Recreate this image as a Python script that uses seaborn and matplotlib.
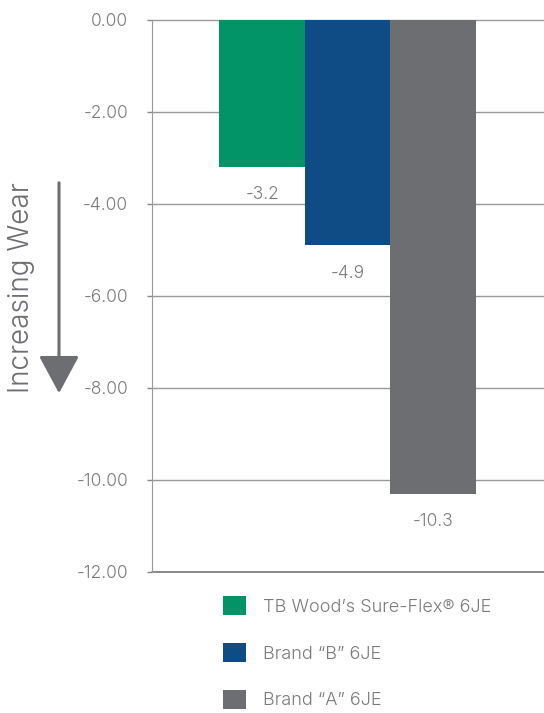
import matplotlib
matplotlib.use("Agg")
import matplotlib.pyplot as plt
import seaborn as sns
import pandas as pd
from matplotlib.patches import Patch, FancyArrowPatch

# donnees du graphique
brands = ["TB Wood\u2019s Sure-Flex\u00ae 6JE", "Brand \u201cB\u201d 6JE", "Brand \u201cA\u201d 6JE"]
wear = [-3.2, -4.9, -10.3]
colors = ["#029467", "#0f4c86", "#6d6e71"]
y_ticks = [0, -2, -4, -6, -8, -10, -12]

df = pd.DataFrame({"brand": brands, "wear": wear})

sns.set_style("white")
plt.rcParams['font.family'] = ['Inter', 'DejaVu Sans']
plt.rcParams['font.weight'] = 300
txt_color = "#7a7a7a"

fig = plt.figure(figsize=(5.44, 7.13), dpi=100)
ax = fig.add_axes([152 / 544, 1 - 572 / 713, 1 - 152 / 544, (572 - 20) / 713])

sns.barplot(data=df, x="brand", y="wear", hue="brand", palette=colors,
            width=1.0, legend=False, saturation=1, linewidth=0, edgecolor="none",
            zorder=3, ax=ax)

ax.set_xlim(-1.29, 3.30)
ax.set_ylim(-12, 0)
ax.set_yticks(y_ticks)
ax.set_yticklabels([f"{t:.2f}" for t in y_ticks], fontsize=12.5, color=txt_color)
ax.set_xticks([])
ax.set_xlabel("")
ax.set_ylabel("")
ax.tick_params(axis='y', left=True, length=3.6, width=1, color="#888888", pad=13.5)
for s in ["top", "right", "bottom"]:
    ax.spines[s].set_visible(False)
ax.spines["left"].set_color("#999999")

# lignes horizontales (grille + axe du bas)
for t in y_ticks:
    if t == -12:
        ax.axhline(t, color="#777777", linewidth=1.2, clip_on=False, zorder=2)
    else:
        ax.axhline(t, color="#999999", linewidth=1, clip_on=False, zorder=1)

# valeurs sous les barres
for i, v in enumerate(wear):
    ax.annotate(f"{v:.1f}", (i, v), xytext=(0, -20), textcoords="offset points",
                ha="center", va="center", fontsize=12.5, color=txt_color)

# fleche "Increasing Wear"
fig.text(22 / 544, 1 - 288 / 713, "Increasing Wear", rotation=90, ha="center",
         va="center", fontsize=20, color="#6d6e71")
fig.add_artist(FancyArrowPatch(
    (59 / 544, 1 - 180 / 713), (59 / 544, 1 - 396 / 713), transform=fig.transFigure,
    arrowstyle="-|>,head_length=1.3,head_width=0.7", mutation_scale=18,
    color="#6d6e71", linewidth=2.2))

# legende
handles = [Patch(facecolor=c, edgecolor="none") for c in colors]
leg = fig.legend(handles, brands, loc="upper left", bbox_to_anchor=(207 / 544, 1 - 580 / 713),
                 frameon=False, fontsize=13, handlelength=1.25, handleheight=1.25,
                 handletextpad=0.95, labelspacing=1.5)
for t in leg.get_texts():
    t.set_color(txt_color)

plt.savefig("out.png", dpi=100)
